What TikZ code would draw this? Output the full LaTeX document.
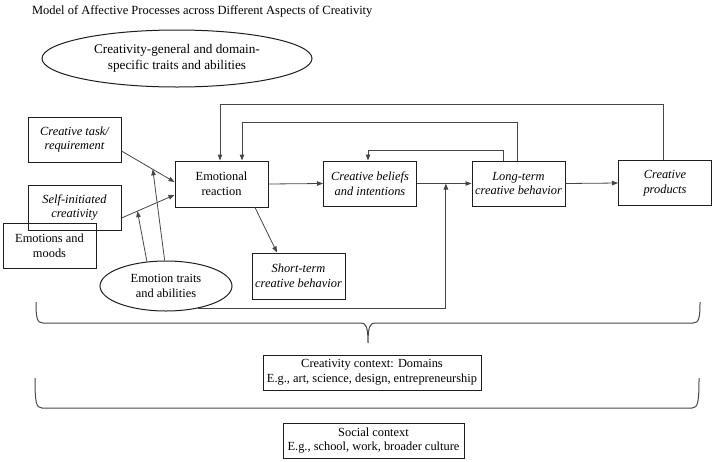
\documentclass[tikz,border=0pt]{standalone}
\usepackage{fontspec}
\setmainfont{Liberation Serif}
\usepackage{tikz}
\usetikzlibrary{shapes.geometric, arrows.meta, positioning, calc}
\definecolor{boxline}{RGB}{30,30,30}
\definecolor{linegray}{RGB}{70,70,70}

\begin{document}
\begin{tikzpicture}[
				x=1pt, y=-1pt,
				every node/.style={font=\fontsize{12.4}{14.6}\selectfont},
				block/.style={rectangle, draw=boxline, line width=1pt, inner sep=1pt,
					minimum width=93pt, minimum height=45pt, align=center},
				iblock/.style={block, font=\fontsize{12.4}{14.6}\selectfont\itshape},
				ctxbox/.style={rectangle, draw=boxline, line width=0.8pt, inner sep=1pt,
					minimum height=35pt, align=center},
				oval/.style={ellipse, draw=boxline, line width=1pt, inner sep=0pt, align=center},
				arrow/.style={-{Triangle[length=6pt, width=4.5pt]}, line width=0.8pt, color=linegray},
				brace/.style={line width=1pt, color=linegray}
				]
				\useasboundingbox (0,0) rectangle (714,461);

				\node[anchor=west, font=\fontsize{12.5}{15}\selectfont] (title) at (28.5,11.5) {Model of Affective Processes across Different Aspects of Creativity};
				\node[oval, minimum width=270pt, minimum height=57pt, font=\fontsize{13.2}{16}\selectfont] (general) at (177,58.5) {Creativity-general and domain-\\specific traits and abilities};

				\node[iblock] (task) at (74.5,139.5) {Creative task/\\requirement};
				\node[iblock] (self) at (74.5,207.5) {Self-initiated\\creativity};
				\node[block] (moods) at (49.5,245.5) {Emotions and\\moods};
				\node[block, minimum height=46pt] (emo) at (221.5,184) {Emotional\\reaction};
				\node[iblock, minimum height=46pt] (short) at (298.5,276) {Short-term\\creative behavior};
				\node[iblock] (beliefs) at (370,183.5) {Creative beliefs\\and intentions};
				\node[iblock] (longterm) at (518.5,183.5) {Long-term\\creative behavior};
				\node[iblock] (products) at (665,183) {Creative\\products};
				\node[oval, minimum width=132pt, minimum height=50pt] (traits) at (166,286) {Emotion traits\\and abilities};

				\node[ctxbox, minimum width=218pt] (domains) at (372,372.5) {Creativity context: Domains\\E.g., art, science, design, entrepreneurship};
				\node[ctxbox, minimum width=181pt] (social) at (373.5,440.5) {Social context\\E.g., school, work, broader culture};

				% inputs into the emotional reaction
				\draw[arrow] ([yshift=-11.5pt]task.east) -- coordinate[pos=0.59] (hitA) ([yshift=2pt]emo.west);
				\draw[arrow] ([yshift=-10.5pt]self.east) -- coordinate[pos=0.3] (hitB) ([yshift=-11pt]emo.west);
				\draw[arrow] (traits.93) -- (hitA);
				\draw[arrow] (traits.128) -- (hitB);

				% main chain
				\draw[arrow] (emo.east) -- (beliefs.west);
				\draw[arrow] ([xshift=33.5pt]emo.south) -- ([xshift=-21.5pt]short.north);
				\draw[arrow] (beliefs.east) -- coordinate[pos=0.53] (hitC) (longterm.west);
				\draw[arrow] (longterm.east) -- (products.west);
				\draw[arrow, line width=1pt] (traits.-35) -| (hitC);

				% feedback loops
				\draw[arrow, line width=1pt] ([xshift=-2pt]products.north) -- ++(0,-56) -| ([xshift=-1.5pt]emo.north);
				\draw[arrow, line width=1pt] ([xshift=-1.5pt]longterm.north) -- ++(0,-38) -| ([xshift=20.5pt]emo.north);
				\draw[arrow] ([xshift=-15.5pt]longterm.north) -- ++(0,-10) -| ([xshift=-2pt]beliefs.north);

				% context brackets
				\draw[brace] (36,302) .. controls (36,318) and (37,323) .. (43,323) -- (361,323)
					.. controls (366,323) and (368,327) .. (368,343)
					.. controls (368,327) and (370,323) .. (375,323) -- (693,323)
					.. controls (699,323) and (700,318) .. (700,302);
				\draw[brace] (35,378) .. controls (35,402) and (36,408) .. (42,408) -- (692,408)
					.. controls (698,408) and (699,402) .. (699,378);
			\end{tikzpicture}
\end{document}
